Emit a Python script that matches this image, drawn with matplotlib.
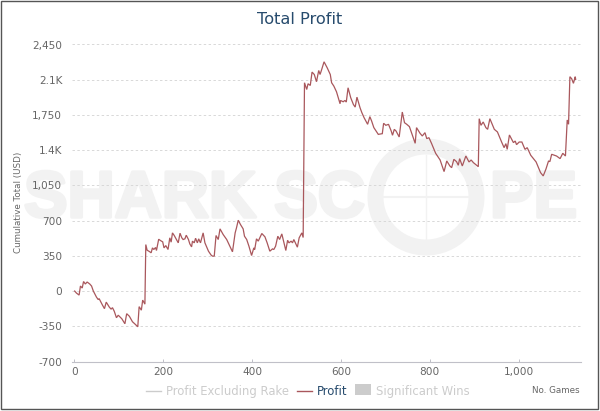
import matplotlib
matplotlib.use('Agg')
import matplotlib.pyplot as plt
import matplotlib.patheffects as pe
from matplotlib.lines import Line2D
from matplotlib.patches import Circle, Rectangle
from matplotlib.transforms import IdentityTransform

# Values
games = [1, 5, 11, 14, 18, 21, 25, 29, 35, 39, 43, 50, 54, 56, 63, 68, 72, 79, 83, 86,
         90, 95, 99, 107, 114, 118, 124, 131, 136, 143, 146, 151, 154, 159, 161, 164, 169, 173, 176, 179,
         183, 185, 190, 194, 199, 202, 206, 211, 215, 218, 221, 225, 230, 234, 238, 242, 245, 249, 252, 257,
         260, 264, 266, 270, 273, 277, 280, 284, 290, 294, 302, 308, 311, 315, 319, 324, 328, 335, 343, 350,
         356, 362, 365, 369, 374, 380, 383, 388, 393, 399, 404, 406, 410, 414, 422, 429, 434, 440, 446, 449,
         453, 458, 462, 467, 471, 476, 480, 483, 488, 491, 494, 502, 506, 512, 515, 518, 523, 526, 531, 535,
         540, 545, 550, 553, 556, 562, 569, 576, 579, 584, 590, 598, 599, 605, 609, 612, 616, 622, 628, 632,
         636, 643, 647, 652, 660, 665, 669, 674, 684, 693, 696, 701, 707, 713, 716, 720, 724, 731, 738, 743,
         748, 754, 767, 770, 778, 783, 789, 793, 798, 804, 813, 823, 832, 838, 845, 849, 854, 860, 864, 867,
         873, 881, 888, 893, 898, 909, 911, 915, 920, 926, 930, 935, 945, 952, 962, 967, 971, 974, 979, 988,
         992, 995, 1001, 1007, 1014, 1019, 1027, 1039, 1049, 1055, 1061, 1067, 1070, 1074, 1085, 1093, 1099, 1105, 1109, 1112,
         1115, 1119, 1123, 1127, 1128]
profit = [0, -20, -40, 50, 30, 95, 70, 90, 70, 50, 0, -60, -85, -75, -135, -175, -110, -160, -180, -165,
          -200, -265, -240, -275, -325, -225, -250, -305, -325, -355, -155, -190, -90, -130, 462, 406, 393, 380, 429, 413,
          433, 403, 515, 502, 489, 429, 452, 413, 529, 486, 578, 552, 512, 479, 575, 529, 512, 519, 555, 512,
          469, 439, 496, 479, 525, 479, 519, 479, 578, 479, 396, 357, 347, 347, 552, 512, 618, 562, 512, 446,
          390, 578, 628, 704, 661, 618, 545, 512, 446, 353, 429, 413, 519, 496, 572, 539, 479, 396, 419, 413,
          446, 545, 512, 568, 496, 403, 505, 479, 496, 479, 512, 436, 529, 578, 532, 2070, 2003, 2060, 2043, 2176,
          2152, 2080, 2192, 2152, 2192, 2278, 2219, 2152, 2070, 2037, 1980, 1861, 1894, 1881, 1894, 1878, 2020, 1921, 1854, 1828,
          1927, 1821, 1773, 1723, 1657, 1733, 1690, 1624, 1557, 1564, 1667, 1647, 1657, 1591, 1548, 1607, 1590, 1531, 1779, 1673,
          1657, 1634, 1468, 1624, 1567, 1541, 1574, 1515, 1524, 1465, 1369, 1303, 1187, 1293, 1243, 1226, 1309, 1286, 1250, 1316,
          1243, 1342, 1283, 1302, 1276, 1236, 1713, 1647, 1680, 1624, 1607, 1713, 1607, 1581, 1475, 1425, 1465, 1408, 1551, 1475,
          1491, 1455, 1481, 1481, 1408, 1425, 1349, 1283, 1177, 1144, 1210, 1293, 1286, 1359, 1342, 1316, 1369, 1342, 1700, 1657,
          2130, 2110, 2064, 2130, 2104]

y_ticks = [-700, -350, 0, 350, 700, 1050, 1400, 1750, 2100, 2450]
y_labels = ['-700', '-350', '0', '350', '700', '1,050', '1.4K', '1,750', '2.1K', '2,450']
x_ticks = [0, 200, 400, 600, 800, 1000]
x_labels = ['0', '200', '400', '600', '800', '1,000']

W, H = 600, 411
LINE = '#a9575c'
BLUE = '#274b6d'
GREY = '#666666'
HIDDEN = '#cccccc'
WM = '#f2f2f2'

plt.rcParams['font.family'] = 'DejaVu Sans'
fig = plt.figure(figsize=(W / 100, H / 100), dpi=100)
ax = fig.add_axes([72 / W, (H - 361.5) / H, (581 - 72) / W, (361.5 - 44.5) / H])
ax.patch.set_alpha(0)


# Position in picture pixels, y measured from the top
def px(x, y):
    return x, H - y


# Frame around the picture
fig.add_artist(Rectangle(px(0.5, 409), 597, 408.5, transform=IdentityTransform(),
                         fill=False, ec='#555555', lw=1.0))

# Watermark, sits behind the axes. The stroke makes the letters as heavy as the original
heavy = [pe.withStroke(linewidth=2.5, foreground=WM)]
fig.text(24 / W, (H - 217) / H, 'SHARK SC', family='Liberation Sans', weight='bold',
         fontsize=47, color=WM, ha='left', va='baseline', zorder=-5, path_effects=heavy)
fig.text(490 / W, (H - 217) / H, 'PE', family='Liberation Sans', weight='bold',
         fontsize=47, color=WM, ha='left', va='baseline', zorder=-5, path_effects=heavy)
fig.add_artist(Circle(px(426, 197), 50.5, transform=IdentityTransform(), fill=False,
                      ec=WM, lw=11.5, zorder=-4))
fig.add_artist(Line2D([384, 468], [H - 197, H - 197], transform=IdentityTransform(), color=WM, lw=1.5, zorder=-4))
fig.add_artist(Line2D([426, 426], [H - 155, H - 239], transform=IdentityTransform(), color=WM, lw=1.0, zorder=-4))

ax.plot(games, profit, color=LINE, lw=0.9, solid_joinstyle='miter', zorder=3)

ax.set_xlim(-5, 1140)
ax.set_ylim(-700, 2450)
ax.set_yticks(y_ticks)
ax.set_yticklabels(y_labels)
ax.set_xticks(x_ticks)
ax.set_xticklabels(x_labels)
ax.tick_params(axis='y', length=0, pad=7, labelsize=7.6, labelcolor=GREY)
ax.tick_params(axis='x', direction='in', length=2, width=0.7, color='#c0c0c8', pad=4, labelsize=7.6, labelcolor=GREY)
ax.grid(axis='y', color='#d8d8d8', lw=0.7, ls=(0, (2.5, 2.5)), zorder=1)
for name in ['top', 'right', 'left']:
    ax.spines[name].set_visible(False)
ax.spines['bottom'].set_color('#c0c0c8')
ax.spines['bottom'].set_linewidth(0.8)

fig.text(300 / W, (H - 19) / H, 'Total Profit', color=BLUE, fontsize=11.6, ha='center', va='center')
fig.text(18.5 / W, (H - 202) / H, 'Cumulative Total (USD)', color=GREY, fontsize=6.3,
         rotation=90, ha='center', va='center')
fig.text(580 / W, (H - 390) / H, 'No. Games', color=GREY, fontsize=6.3, ha='right', va='center')

# Legend
fig.add_artist(Line2D([146, 161], [H - 391, H - 391], transform=IdentityTransform(), color=HIDDEN, lw=1))
fig.text(166 / W, (H - 391) / H, 'Profit Excluding Rake', color=HIDDEN, fontsize=8.4, va='center')
fig.add_artist(Line2D([297, 312], [H - 391, H - 391], transform=IdentityTransform(), color=LINE, lw=1))
fig.text(317 / W, (H - 391) / H, 'Profit', color=BLUE, fontsize=8.4, va='center')
fig.add_artist(Rectangle(px(355, 395), 16, 11, transform=IdentityTransform(), color=HIDDEN, lw=0))
fig.text(376 / W, (H - 391) / H, 'Significant Wins', color=HIDDEN, fontsize=8.4, va='center')

fig.savefig('out.png', dpi=100)
